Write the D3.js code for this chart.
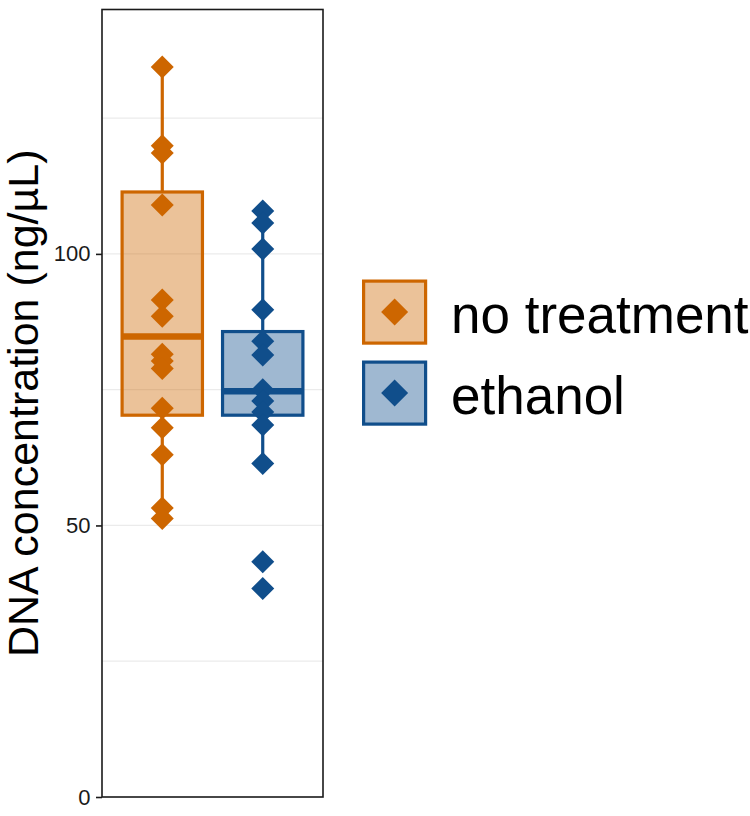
<!DOCTYPE html>
<html>
<head>
<meta charset="utf-8">
<script src="https://cdn.jsdelivr.net/npm/d3@7/dist/d3.min.js"></script>
<style>
  html, body { margin: 0; padding: 0; background: #fff; }
  svg { display: block; }
  text { font-family: "Liberation Sans", Arial, Helvetica, sans-serif; }
</style>
</head>
<body>
<svg id="chart" width="750" height="816"></svg>
<script>
// ---- data ----
const categories = ["no treatment", "ethanol"];
const noTreatmentValues = [134.4, 119.9, 118.6, 109.0, 91.5, 88.5, 81.5, 80.3, 78.9, 71.6, 68.0, 63.0, 53.2, 51.3];
const ethanolValues = [107.9, 105.7, 100.9, 89.7, 83.9, 81.4, 75.0, 72.9, 70.9, 68.5, 61.4, 43.3, 38.4];
// box statistics per category: [no treatment, ethanol]
const boxLower = [70.3, 70.3];
const boxMedian = [84.8, 74.7];
const boxUpper = [111.4, 85.7];
const whiskerLow = [51.3, 61.4];
const whiskerHigh = [134.4, 107.9];
const yTicks = [0, 50, 100];
const yGrid = [25, 50, 75, 100, 125];
const yTitle = "DNA concentration (ng/µL)";
const lineColors = ["#CD6600", "#104E8B"];

const seriesValues = [noTreatmentValues, ethanolValues];

// ---- layout ----
const panel = { left: 102, right: 323, top: 9.5, bottom: 797 };
const svg = d3.select("#chart");

const y = d3.scaleLinear().domain([0, 145]).range([panel.bottom, panel.top]);
const x = d3.scalePoint().domain(categories).range([panel.left, panel.right]).padding(0.6);
const boxW = x.step() * 0.8;

// gridlines
svg.append("g").selectAll("line").data(yGrid).join("line")
  .attr("x1", panel.left).attr("x2", panel.right)
  .attr("y1", d => y(d)).attr("y2", d => y(d))
  .attr("stroke", "#EBEBEB").attr("stroke-width", 1.2);

const boxes = categories.map((c, i) => ({
  cat: c, color: lineColors[i],
  lo: boxLower[i], med: boxMedian[i], hi: boxUpper[i],
  wl: whiskerLow[i], wh: whiskerHigh[i]
}));

const gb = svg.append("g");
// whiskers
gb.selectAll("line.wup").data(boxes).join("line").attr("class", "wup")
  .attr("x1", d => x(d.cat)).attr("x2", d => x(d.cat))
  .attr("y1", d => y(d.hi)).attr("y2", d => y(d.wh))
  .attr("stroke", d => d.color).attr("stroke-width", 3.2);
gb.selectAll("line.wlo").data(boxes).join("line").attr("class", "wlo")
  .attr("x1", d => x(d.cat)).attr("x2", d => x(d.cat))
  .attr("y1", d => y(d.lo)).attr("y2", d => y(d.wl))
  .attr("stroke", d => d.color).attr("stroke-width", 3.2);
// boxes
gb.selectAll("rect").data(boxes).join("rect")
  .attr("x", d => x(d.cat) - boxW / 2).attr("width", boxW)
  .attr("y", d => y(d.hi)).attr("height", d => y(d.lo) - y(d.hi))
  .attr("fill", d => d.color).attr("fill-opacity", 0.4)
  .attr("stroke", d => d.color).attr("stroke-width", 3.2);
// medians
gb.selectAll("line.med").data(boxes).join("line").attr("class", "med")
  .attr("x1", d => x(d.cat) - boxW / 2).attr("x2", d => x(d.cat) + boxW / 2)
  .attr("y1", d => y(d.med)).attr("y2", d => y(d.med))
  .attr("stroke", d => d.color).attr("stroke-width", 6.5);

// points (diamonds)
const diamond = r => `M0,${-r}L${r},0L0,${r}L${-r},0Z`;
const pts = [];
seriesValues.forEach((vals, i) => vals.forEach(v => pts.push({ cat: categories[i], v, color: lineColors[i] })));
svg.append("g").selectAll("path").data(pts).join("path")
  .attr("transform", d => `translate(${x(d.cat)},${y(d.v)})`)
  .attr("d", diamond(11.5))
  .attr("fill", d => d.color);

// panel border
svg.append("rect")
  .attr("x", panel.left).attr("y", panel.top)
  .attr("width", panel.right - panel.left).attr("height", panel.bottom - panel.top)
  .attr("fill", "none").attr("stroke", "#1a1a1a").attr("stroke-width", 1.6);

// y axis ticks and labels
const yAxis = d3.axisLeft(y).tickValues(yTicks).tickSize(6).tickPadding(5.5);
const ga = svg.append("g").attr("transform", `translate(${panel.left},0)`).call(yAxis);
ga.select(".domain").remove();
ga.selectAll(".tick line").attr("stroke", "#1a1a1a").attr("stroke-width", 1.6);
ga.selectAll(".tick text").attr("fill", "#1a1a1a").style("font-size", "22px")
  .style("font-family", '"Liberation Sans", Arial, sans-serif');

// y title
svg.append("text")
  .attr("transform", `translate(38,${(panel.top + panel.bottom) / 2}) rotate(-90)`)
  .attr("text-anchor", "middle")
  .style("font-size", "43px").attr("fill", "#000")
  .text(yTitle);

// legend
const lg = svg.append("g");
const keyTop = [279.5, 360.5];
categories.forEach((c, i) => {
  const g = lg.append("g").attr("transform", `translate(362,${keyTop[i]})`);
  g.append("rect").attr("x", 1.6).attr("y", 1.6).attr("width", 62).attr("height", 62)
    .attr("fill", lineColors[i]).attr("fill-opacity", 0.4)
    .attr("stroke", lineColors[i]).attr("stroke-width", 3.2);
  g.append("path").attr("transform", "translate(32.6,32.6)").attr("d", diamond(13.5))
    .attr("fill", lineColors[i]);
  lg.append("text").attr("x", 451).attr("y", keyTop[i] + 53.5)
    .style("font-size", "53px").attr("fill", "#000").text(c);
});
</script>
</body>
</html>
